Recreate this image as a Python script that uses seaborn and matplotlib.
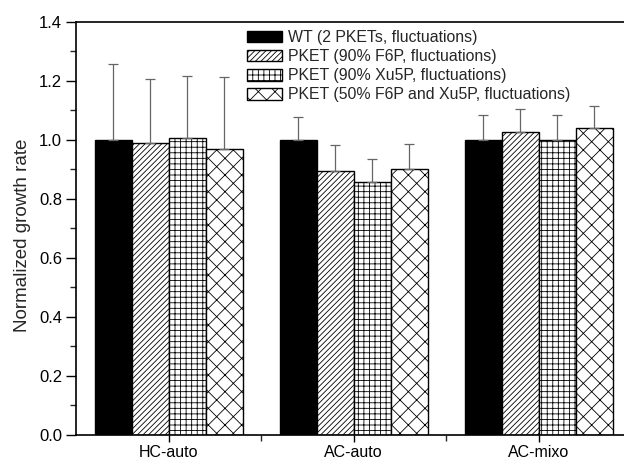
import numpy as np
import pandas as pd
import matplotlib
matplotlib.use("Agg")
import matplotlib.pyplot as plt
from matplotlib.ticker import MultipleLocator
from matplotlib.container import BarContainer
import seaborn as sns

categories = ["HC-auto", "AC-auto", "AC-mixo"]
series = ["WT (2 PKETs, fluctuations)",
          "PKET (90% F6P, fluctuations)",
          "PKET (90% Xu5P, fluctuations)",
          "PKET (50% F6P and Xu5P, fluctuations)"]
wt = [1.000, 1.000, 1.000]
f6p = [0.988, 0.893, 1.025]
xu5p = [1.004, 0.858, 0.999]
mix = [0.970, 0.899, 1.039]
wt_err = [0.255, 0.078, 0.083]
f6p_err = [0.218, 0.089, 0.078]
xu5p_err = [0.212, 0.077, 0.083]
mix_err = [0.243, 0.085, 0.074]
y_ticks = [0.0, 0.2, 0.4, 0.6, 0.8, 1.0, 1.2, 1.4]

values = [wt, f6p, xu5p, mix]
errors = [wt_err, f6p_err, xu5p_err, mix_err]
hatches = ["", "//////", "+++", "xx"]
faces = ["black", "white", "white", "white"]

rows = []
for s, vals in zip(series, values):
    for c, v in zip(categories, vals):
        rows.append({"category": c, "series": s, "value": v})
df = pd.DataFrame(rows)

sns.set_style("ticks")
plt.rcParams["font.family"] = ["Liberation Sans", "DejaVu Sans"]
plt.rcParams["hatch.linewidth"] = 0.6

fig = plt.figure(figsize=(6.24, 4.62), dpi=100)
ax = fig.add_axes([76 / 624, 27 / 462, 548 / 624, 413.5 / 462])

sns.barplot(data=df, x="category", y="value", hue="series", order=categories,
            hue_order=series, width=0.8, dodge=True, errorbar=None, ax=ax,
            edgecolor="black", linewidth=1.0, legend=True)

bar_conts = [c for c in ax.containers if isinstance(c, BarContainer)]
for i, cont in enumerate(bar_conts):
    xs, tops = [], []
    for bar in cont:
        bar.set_facecolor(faces[i])
        bar.set_edgecolor("black")
        bar.set_hatch(hatches[i])
        xs.append(bar.get_x() + bar.get_width() / 2)
        tops.append(bar.get_height())
    err = np.array(errors[i])
    ax.errorbar(xs, tops, yerr=[np.zeros_like(err), err], fmt="none",
                ecolor="0.4", elinewidth=0.9, capsize=3.5, capthick=0.9,
                zorder=1)

ax.set_xlim(-0.5, 2.46)
ax.set_ylim(0, 1.4)
ax.set_yticks(y_ticks)
ax.set_yticklabels([f"{t:.1f}" for t in y_ticks])
ax.yaxis.set_minor_locator(MultipleLocator(0.1))
ax.set_xticks([0, 1, 2])
ax.set_xticklabels(categories)
ax.set_xticks([0.5, 1.5], minor=True)
ax.tick_params(axis="y", which="major", direction="out", length=7,
               width=1.0, labelsize=12, colors="black", pad=3)
ax.tick_params(axis="x", which="major", direction="out", length=5,
               width=1.0, labelsize=11.5, colors="black", pad=2)
ax.tick_params(axis="both", which="minor", direction="out", length=4,
               width=1.0)
ax.set_xlabel("")
ax.set_ylabel("Normalized growth rate", fontsize=13.5, labelpad=6)
ax.yaxis.label.set_y(0.484)
for side in ["left", "bottom", "top"]:
    ax.spines[side].set_visible(True)
    ax.spines[side].set_linewidth(1.2)
    ax.spines[side].set_color("black")
ax.spines["right"].set_visible(False)

handles, labels = ax.get_legend_handles_labels()
for i, h in enumerate(handles):
    h.set_facecolor(faces[i])
    h.set_edgecolor("black")
    h.set_hatch(hatches[i])
ax.legend(handles, labels, loc="upper left",
          bbox_to_anchor=(247 / 624, 1 - 30 / 462),
          bbox_transform=fig.transFigure, frameon=False, fontsize=11.4,
          borderpad=0, handlelength=2.2, handleheight=0.76,
          handletextpad=0.38, labelspacing=0.26, borderaxespad=0)

fig.savefig("out.png", dpi=100)
